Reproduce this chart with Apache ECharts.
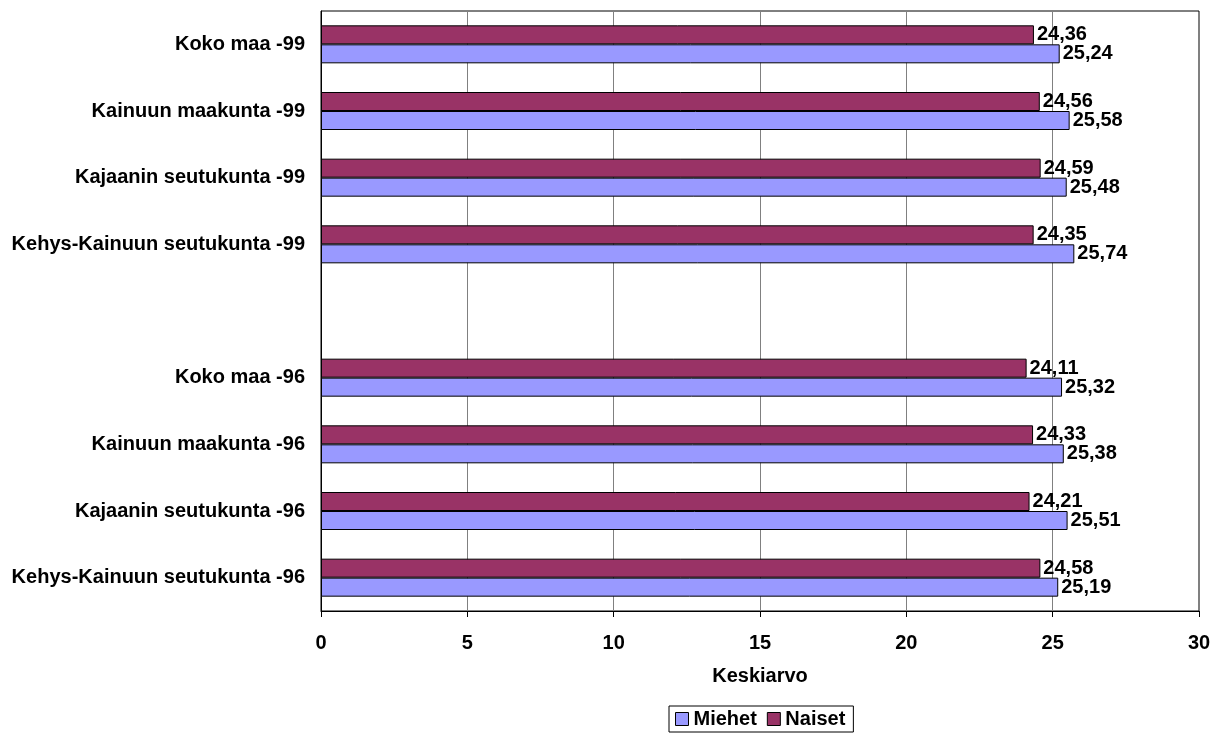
<!DOCTYPE html>
<html><head><meta charset="utf-8">
<script src="https://cdn.jsdelivr.net/npm/echarts@6/dist/echarts.min.js"></script>
<style>html,body{margin:0;padding:0;background:#fff}#c{width:1219px;height:733px}</style>
</head><body><div id="c"></div>
<script>
const categories = ['Koko maa -99','Kainuun maakunta -99','Kajaanin seutukunta -99','Kehys-Kainuun seutukunta -99','','Koko maa -96','Kainuun maakunta -96','Kajaanin seutukunta -96','Kehys-Kainuun seutukunta -96'];
const miehet = [25.24, 25.58, 25.48, 25.74, '-', 25.32, 25.38, 25.51, 25.19];
const naiset = [24.36, 24.56, 24.59, 24.35, '-', 24.11, 24.33, 24.21, 24.58];
const xTicks = [0, 5, 10, 15, 20, 25, 30];

const font = 'Liberation Sans, Arial, sans-serif';
const lbl = {
  show: true, position: 'right', distance: 3,
  color: '#000', fontFamily: font, fontWeight: 'bold', fontSize: 20,
  formatter: p => (typeof p.value === 'number') ? p.value.toFixed(2).replace('.', ',') : ''
};
const chart = echarts.init(document.getElementById('c'), null, {renderer: 'canvas'});
chart.setOption({
  animation: false,
  backgroundColor: '#fff',
  grid: {left: 321, right: 20, top: 11, bottom: 122, show: true, borderColor: '#000', borderWidth: 1},
  legend: {
    top: 706, left: 669, data: ['Miehet', 'Naiset'],
    borderColor: '#000', borderWidth: 1, padding: [3, 8, 3, 6], itemGap: 10,
    itemWidth: 13, itemHeight: 13, icon: 'rect',
    textStyle: {fontFamily: font, fontWeight: 'bold', fontSize: 20, color: '#000'},
    itemStyle: {borderColor: '#000', borderWidth: 1}
  },
  xAxis: {
    type: 'value', min: xTicks[0], max: xTicks[xTicks.length - 1], interval: 5,
    name: 'Keskiarvo', nameLocation: 'middle', nameGap: 55,
    nameTextStyle: {fontFamily: font, fontWeight: 'bold', fontSize: 20, color: '#000'},
    axisLine: {show: true, lineStyle: {color: '#000'}},
    axisTick: {show: true, length: 6, lineStyle: {color: '#000'}},
    axisLabel: {margin: 22, fontFamily: font, fontWeight: 'bold', fontSize: 20, color: '#000'},
    splitLine: {show: true, lineStyle: {color: '#808080', width: 1}}
  },
  yAxis: {
    type: 'category', data: categories, inverse: true,
    axisLine: {show: true, lineStyle: {color: '#000'}},
    axisTick: {show: false},
    axisLabel: {margin: 16, fontFamily: font, fontWeight: 'bold', fontSize: 20, color: '#000'},
    splitLine: {show: false}
  },
  series: [
    {name: 'Naiset', type: 'bar', data: naiset, barWidth: 19, barGap: 0,
     itemStyle: {color: '#993366', borderColor: '#000', borderWidth: 1}, label: lbl},
    {name: 'Miehet', type: 'bar', data: miehet, barWidth: 19, barGap: 0,
     itemStyle: {color: '#9999FF', borderColor: '#000', borderWidth: 1}, label: lbl}
  ]
});
</script></body></html>
